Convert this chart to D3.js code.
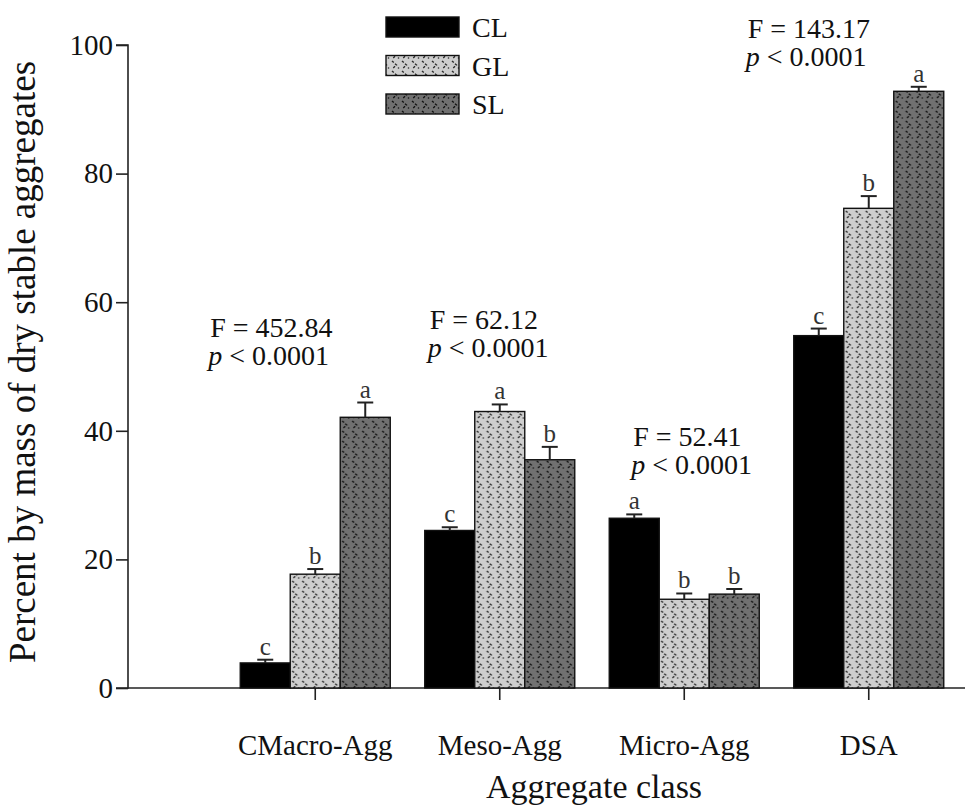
<!DOCTYPE html>
<html>
<head>
<meta charset="utf-8">
<script src="https://cdn.jsdelivr.net/npm/d3@7"></script>
<style>
  html, body { margin: 0; padding: 0; background: #fff; }
  svg { display: block; }
  text { font-family: "Liberation Serif", "Times New Roman", serif; }
</style>
</head>
<body>
<svg id="chart" width="965" height="808"></svg>
<script>
// ---- data ----
const categories = ["CMacro-Agg", "Meso-Agg", "Micro-Agg", "DSA"];
const seriesNames = ["CL", "GL", "SL"];
const valuesCL = [3.9, 24.5, 26.4, 54.8];
const valuesGL = [17.7, 43.0, 13.8, 74.6];
const valuesSL = [42.1, 35.5, 14.6, 92.8];
const errorsCL = [0.5, 0.5, 0.6, 1.1];
const errorsGL = [0.8, 1.1, 0.9, 1.9];
const errorsSL = [2.3, 2.0, 0.8, 0.7];
const lettersCL = ["c", "c", "a", "c"];
const lettersGL = ["b", "a", "b", "b"];
const lettersSL = ["a", "b", "b", "a"];
const fStats = ["F = 452.84", "F = 62.12", "F = 52.41", "F = 143.17"];
const pStat = "< 0.0001";
const yTicks = [0, 20, 40, 60, 80, 100];

// ---- layout ----
const plotLeft = 128, plotTop = 45, plotBottom = 688, plotRight = 965;
// annotation layout (pixel offsets from group start, y in data units)
const annDX = [-30, 5, 24, -46];
const annY = [54.6, 55.8, 37.7, 101.1];

const svg = d3.select("#chart");

const series = seriesNames.map((name, si) => ({
  name,
  values: [valuesCL, valuesGL, valuesSL][si],
  errors: [errorsCL, errorsGL, errorsSL][si],
  letters: [lettersCL, lettersGL, lettersSL][si]
}));

const y = d3.scaleLinear().domain([0, 100]).range([plotBottom, plotTop]);
const x0 = d3.scaleBand().domain(categories).range([223, 961])
  .paddingInner(0.187).paddingOuter(0.0935);
const x1 = d3.scaleBand().domain(seriesNames).range([0, x0.bandwidth()]).padding(0);

// ---- patterns ----
const defs = svg.append("defs");
function makePattern(id, bg, fg) {
  const p = defs.append("pattern").attr("id", id)
    .attr("patternUnits", "userSpaceOnUse").attr("width", 10).attr("height", 10);
  p.append("rect").attr("width", 10).attr("height", 10).attr("fill", bg);
  p.append("path").attr("d", "M2,1 L6.5,5 L2,9")
    .attr("fill", "none").attr("stroke", fg).attr("stroke-width", 1.4)
    .attr("stroke-dasharray", "2.4,1.6");
  p.append("circle").attr("cx", 8.5).attr("cy", 8).attr("r", 0.8).attr("fill", fg);
}
makePattern("patGL", "#cecece", "#2a2a2a");
makePattern("patSL", "#717171", "#111");
const fills = { CL: "#000", GL: "url(#patGL)", SL: "url(#patSL)" };

// ---- axes ----
const yAxis = d3.axisLeft(y).tickValues(yTicks).tickSize(12).tickPadding(3).tickFormat(d3.format("d"));
const gy = svg.append("g").attr("transform", `translate(${plotLeft},0)`).call(yAxis);
gy.select(".domain").attr("stroke", "#222").attr("stroke-width", 1.6)
  .attr("d", `M-12,${plotTop}H0V${plotBottom}H-12`);
gy.selectAll(".tick line").attr("stroke", "#222").attr("stroke-width", 1.6);
gy.selectAll(".tick text").attr("font-size", 29).attr("fill", "#111");

const xAxis = d3.axisBottom(x0).tickSize(12).tickPadding(34).tickSizeOuter(0);
const gx = svg.append("g").attr("transform", `translate(0,${plotBottom})`).call(xAxis);
gx.select(".domain").attr("stroke", "#222").attr("stroke-width", 1.6)
  .attr("d", `M${plotLeft},0H${plotRight}`);
gx.selectAll(".tick line").attr("stroke", "#222").attr("stroke-width", 1.6);
gx.selectAll(".tick text").attr("font-size", 29).attr("fill", "#111");

// ---- bars ----
const groups = svg.append("g").selectAll("g").data(categories).join("g")
  .attr("transform", d => `translate(${x0(d)},0)`);

groups.each(function (cat, ci) {
  const g = d3.select(this);
  series.forEach(s => {
    const v = s.values[ci], e = s.errors[ci];
    const bx = x1(s.name), bw = x1.bandwidth();
    g.append("rect")
      .attr("x", bx).attr("y", y(v))
      .attr("width", bw).attr("height", y(0) - y(v))
      .attr("fill", fills[s.name]).attr("stroke", "#111").attr("stroke-width", 1.4);
    const cx = bx + bw / 2;
    g.append("line").attr("x1", cx).attr("x2", cx).attr("y1", y(v)).attr("y2", y(v + e))
      .attr("stroke", "#222").attr("stroke-width", 2);
    g.append("line").attr("x1", cx - 8).attr("x2", cx + 8).attr("y1", y(v + e)).attr("y2", y(v + e))
      .attr("stroke", "#222").attr("stroke-width", 2);
    g.append("text").attr("x", cx).attr("y", y(v + e) - 5)
      .attr("text-anchor", "middle").attr("font-size", 25).attr("fill", "#333")
      .text(s.letters[ci]);
  });
});

// ---- annotations ----
categories.forEach((cat, ci) => {
  const ax = x0(cat) + annDX[ci];
  const ay = y(annY[ci]);
  svg.append("text").attr("x", ax).attr("y", ay).attr("font-size", 28).attr("fill", "#111")
    .text(fStats[ci]);
  const t = svg.append("text").attr("x", ax - 2).attr("y", ay + 28).attr("font-size", 28).attr("fill", "#111");
  t.append("tspan").attr("font-style", "italic").text("p");
  t.append("tspan").text(" " + pStat);
});

// ---- legend ----
const legend = svg.append("g");
seriesNames.forEach((name, i) => {
  const ly = 17 + i * 38.5;
  legend.append("rect").attr("x", 386).attr("y", ly).attr("width", 73).attr("height", 20)
    .attr("fill", fills[name]).attr("stroke", "#111").attr("stroke-width", 1.4);
  legend.append("text").attr("x", 472).attr("y", ly + 20).attr("font-size", 28).attr("fill", "#111")
    .text(name);
});

// ---- axis titles ----
svg.append("text").attr("transform", `translate(35,362) rotate(-90)`)
  .attr("text-anchor", "middle").attr("font-size", 37).attr("fill", "#111")
  .text("Percent by mass of dry stable aggregates");
svg.append("text").attr("x", 594).attr("y", 798)
  .attr("text-anchor", "middle").attr("font-size", 34).attr("fill", "#111")
  .text("Aggregate class");
</script>
</body>
</html>
